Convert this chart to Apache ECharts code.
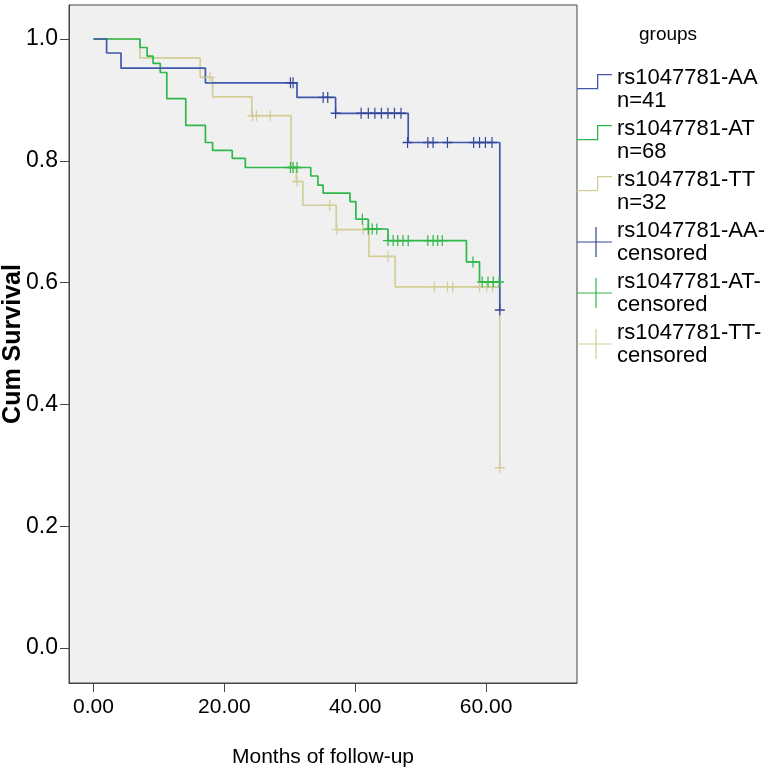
<!DOCTYPE html>
<html>
<head>
<meta charset="utf-8">
<script src="https://cdn.jsdelivr.net/npm/echarts@6/dist/echarts.min.js"></script>
<style>html,body{margin:0;padding:0;background:#fff;}#c{width:770px;height:774px;}</style>
</head>
<body>
<div id="c"></div>
<script>
// ---- data ----
var groupNames = ['rs1047781-AA\nn=41', 'rs1047781-AT\nn=68', 'rs1047781-TT\nn=32'];
var censNames = ['rs1047781-AA-\ncensored', 'rs1047781-AT-\ncensored', 'rs1047781-TT-\ncensored'];
var xTicks = [0, 20, 40, 60];
var yTicks = [0, 0.2, 0.4, 0.6, 0.8, 1.0];

// survival steps [month, cumulative survival after event]
var survAA = [[0,1],[2.0,0.977],[4.2,0.952],[17.1,0.928],[31.1,0.904],[37.0,0.878],[48.1,0.830],[62.1,0.555]];
var survAT = [[0,1],[7.1,0.986],[8.2,0.972],[9.1,0.960],[10.2,0.945],[11.2,0.902],[14.1,0.858],[17.1,0.830],[18.2,0.817],[21.2,0.804],[23.2,0.789],[33.2,0.775],[34.3,0.760],[35.1,0.747],[39.2,0.733],[40.1,0.704],[42.0,0.688],[45.0,0.669],[57.0,0.634],[59.0,0.601],[62.0,0.601]];
var survTT = [[0,1],[7.1,0.969],[16.3,0.937],[18.2,0.905],[24.2,0.874],[30.2,0.789],[31.0,0.766],[32.0,0.727],[37.1,0.687],[42.1,0.643],[46.1,0.593],[62.1,0.296]];

// censored observations [month, survival]
var censAA = [[30.1,0.928],[30.5,0.928],[35.1,0.904],[35.8,0.904],[37.0,0.878],[40.9,0.878],[42.0,0.878],[43.0,0.878],[44.0,0.878],[45.0,0.878],[46.0,0.878],[47.0,0.878],[48.0,0.830],[51.1,0.830],[51.9,0.830],[54.1,0.830],[58.1,0.830],[59.0,0.830],[59.9,0.830],[60.9,0.830],[62.1,0.555]];
var censAT = [[30.1,0.789],[30.5,0.789],[31.1,0.789],[41.1,0.704],[42.0,0.688],[42.6,0.688],[43.3,0.688],[45.0,0.669],[45.8,0.669],[46.5,0.669],[47.3,0.669],[48.1,0.669],[51.1,0.669],[51.9,0.669],[52.6,0.669],[53.3,0.669],[58.0,0.634],[59.4,0.601],[60.3,0.601],[61.1,0.601],[62.0,0.601]];
var censTT = [[17.8,0.937],[24.3,0.874],[24.9,0.874],[27.0,0.874],[30.5,0.789],[31.1,0.766],[36.1,0.727],[37.2,0.687],[41.2,0.687],[45.0,0.643],[52.1,0.593],[54.1,0.593],[54.9,0.593],[59.0,0.593],[60.1,0.593],[61.0,0.593],[62.1,0.296]];

var colors = ['#3E58AC', '#2EB848', '#D3CE97'];
var censColors = ['#34479A', '#2EB848', '#D3CE97'];

var plusPath = 'path://M4.4,0 L5.6,0 L5.6,4.4 L10,4.4 L10,5.6 L5.6,5.6 L5.6,10 L4.4,10 L4.4,5.6 L0,5.6 L0,4.4 L4.4,4.4 Z';
// step-line icon drawn in the upper half of a 35x30 box (tiny dot at bottom keeps the box)
var stepIcon = 'path://M0,14 L20,14 L20,0 L35,0 L35,1.3 L21.3,1.3 L21.3,15.3 L0,15.3 Z M0,29.9 L0.05,29.9 L0.05,30 L0,30 Z';
var censIcon = 'path://M0,14.4 L18.4,14.4 L18.4,0 L19.6,0 L19.6,14.4 L35,14.4 L35,15.6 L19.6,15.6 L19.6,30 L18.4,30 L18.4,15.6 L0,15.6 Z';

var survs = [survAA, survAT, survTT];
var cens = [censAA, censAT, censTT];
var series = [];
var order = [2, 1, 0];
order.forEach(function (i) {
  series.push({
    name: groupNames[i], type: 'line', step: 'end', data: survs[i],
    showSymbol: false, symbol: 'none', animation: false,
    lineStyle: { color: colors[i], width: 1.7 }, itemStyle: { color: colors[i] }, z: 2 + (2 - i)
  });
});
order.forEach(function (i) {
  series.push({
    name: censNames[i], type: 'scatter', data: cens[i], symbol: plusPath, symbolSize: [10, 11],
    animation: false, itemStyle: { color: censColors[i], opacity: 1 }, z: 6 + (2 - i)
  });
});

var legendData = [];
for (var i = 0; i < 3; i++) legendData.push({ name: groupNames[i], icon: stepIcon, itemStyle: { color: colors[i] } });
for (var i = 0; i < 3; i++) legendData.push({ name: censNames[i], icon: censIcon, itemStyle: { color: censColors[i] } });

var font = '"Liberation Sans", Arial, sans-serif';
var chart = echarts.init(document.getElementById('c'), null, { renderer: 'canvas' });
chart.setOption({
  animation: false,
  backgroundColor: '#ffffff',
  textStyle: { fontFamily: font },
  title: {
    text: 'groups', left: 634, top: 20,
    textStyle: { fontFamily: font, fontSize: 19, fontWeight: 'normal', color: '#000' }
  },
  legend: {
    orient: 'vertical', left: 572, top: 61, itemGap: 5,
    itemWidth: 35, itemHeight: 30,
    selectedMode: false,
    data: legendData,
    textStyle: { fontFamily: font, fontSize: 22, lineHeight: 23, color: '#000' }
  },
  grid: {
    left: 69, right: 193, top: 5, bottom: 91,
    containLabel: false, outerBoundsMode: 'none',
    show: true, backgroundColor: '#F0F0F0', borderColor: '#444', borderWidth: 1
  },
  xAxis: {
    type: 'value', min: -3.75, max: 73.9,
    name: 'Months of follow-up', nameLocation: 'middle', nameGap: 64, nameMoveOverlap: false,
    nameTextStyle: { fontFamily: font, fontSize: 21, color: '#000' },
    axisLine: { show: true, onZero: false, lineStyle: { color: '#444' } },
    axisTick: { show: true, length: 9, customValues: xTicks, lineStyle: { color: '#444' } },
    axisLabel: { customValues: xTicks, margin: 14, fontSize: 21, color: '#000', fontFamily: font,
      formatter: function (v) { return v.toFixed(2); } },
    splitLine: { show: false }
  },
  yAxis: {
    type: 'value', min: -0.0575, max: 1.0558,
    name: 'Cum Survival', nameLocation: 'middle', nameGap: 43, nameRotate: 90, nameMoveOverlap: false,
    nameTextStyle: { fontFamily: font, fontSize: 25, fontWeight: 'bold', color: '#000' },
    axisLine: { show: true, onZero: false, lineStyle: { color: '#444' } },
    axisTick: { show: true, length: 9, customValues: yTicks, lineStyle: { color: '#444' } },
    axisLabel: { customValues: yTicks, margin: 11, fontSize: 23, color: '#000', fontFamily: font,
      formatter: function (v) { return v.toFixed(1); } },
    splitLine: { show: false }
  },
  series: series
});
</script>
</body>
</html>
